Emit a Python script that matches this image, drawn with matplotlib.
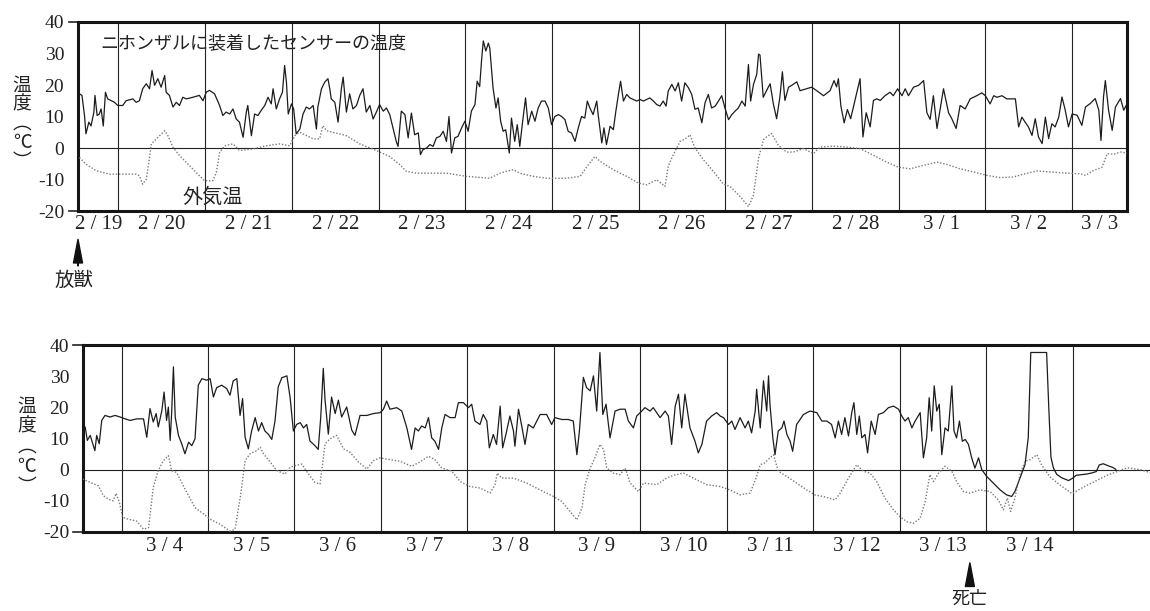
import matplotlib
matplotlib.use('Agg')
import matplotlib.pyplot as plt

plt.rcParams['font.family'] = ['Liberation Serif', 'Noto Sans CJK JP']
JP = ['Noto Sans CJK JP']

# (hours since 2/19 0:00, deg C)
feb_sensor = [
    (13.2, 17.2), (13.9, 16.7), (14.6, 10.3), (15.0, 4.5), (15.8, 8.2), (16.4, 7.0),
    (17.2, 11.4), (17.5, 16.7), (18.1, 10.3), (18.7, 10.8), (19.2, 12.4), (19.8, 7.0),
    (20.4, 17.7), (21.0, 15.6), (22.9, 14.5), (23.8, 13.5), (25.2, 13.5), (26.1, 15.0),
    (28.0, 15.6), (28.9, 14.5), (29.8, 15.0), (30.7, 18.8), (31.7, 20.4), (32.6, 18.8),
    (33.3, 24.6), (34.0, 19.9), (34.9, 22.0), (35.8, 19.3), (36.8, 23.0), (37.2, 17.7),
    (38.1, 16.7), (39.1, 13.0), (40.0, 14.5), (40.9, 13.5), (41.8, 16.1), (42.8, 15.6),
    (44.6, 16.1), (46.4, 16.7), (47.4, 15.0), (48.3, 17.7), (49.2, 18.3), (50.6, 17.2),
    (52.0, 13.5), (52.9, 10.3), (53.8, 11.4), (54.8, 10.8), (55.7, 12.4), (56.6, 9.2),
    (57.5, 8.2), (58.5, 3.4), (59.4, 11.4), (59.8, 13.5), (60.8, 3.9), (61.7, 10.8),
    (62.6, 10.3), (63.5, 11.9), (64.5, 13.5), (65.4, 16.1), (66.3, 14.0), (66.8, 18.8),
    (67.7, 12.4), (68.6, 15.6), (69.4, 17.7), (70.0, 26.2), (70.5, 20.9), (71.0, 10.8),
    (71.9, 14.0), (72.5, 12.4), (73.2, 4.5), (74.2, 6.0), (75.1, 10.8), (76.0, 13.0),
    (76.9, 12.4), (77.9, 13.5), (78.8, 6.0), (79.2, 13.0), (80.2, 18.8), (81.1, 20.9),
    (82.0, 22.0), (82.5, 18.8), (82.9, 15.6), (83.9, 14.5), (84.8, 8.2), (85.7, 18.8),
    (86.2, 22.5), (87.1, 11.4), (88.0, 17.2), (88.9, 12.4), (89.9, 13.5), (90.8, 16.7),
    (91.7, 18.8), (92.6, 11.4), (93.6, 13.5), (94.5, 9.2), (95.4, 11.4),
    (96.3, 13.8), (97.3, 11.7), (98.2, 12.7), (99.1, 10.6), (100.0, 6.4), (100.9, 2.1),
    (101.4, 0.5), (102.3, 11.7), (103.3, 10.6), (104.2, 3.2), (105.1, 11.1), (106.0, 4.2),
    (107.0, 4.8), (107.6, -2.1), (108.3, -0.5), (109.3, 0.0), (110.2, 1.1), (111.1, 0.5),
    (112.0, 3.2), (113.0, 3.7), (113.9, 5.3), (114.8, 2.1), (115.5, 10.0), (116.2, -1.6),
    (117.1, 3.2), (118.0, 3.7), (119.0, 6.4), (119.9, 8.5), (120.8, 5.3), (121.7, 11.7),
    (122.7, 13.8), (123.3, 21.2), (124.0, 19.5), (124.5, 27.6), (125.0, 34.0), (125.7, 30.8),
    (126.4, 33.3), (126.8, 31.7), (127.7, 19.1), (128.5, 12.7), (129.1, 15.9), (129.8, 8.5),
    (130.5, 5.3), (131.2, 5.8), (132.2, -1.6), (132.8, 9.5), (133.7, 2.1), (134.4, 7.4),
    (135.1, 0.5), (135.9, 8.5), (136.7, 15.9), (137.4, 7.4), (138.4, 11.7), (139.3, 8.5),
    (140.2, 12.7), (141.1, 14.9), (142.1, 14.9), (143.0, 12.7), (143.9, 7.4), (144.8, 10.0),
    (145.8, 10.6), (146.7, 10.0), (147.6, 9.0), (148.5, 5.3), (149.4, 4.8), (150.4, 2.1),
    (151.3, 6.4), (152.2, 10.0), (153.1, 9.5), (153.8, 14.9), (154.5, 12.7), (155.4, 10.6),
    (156.4, 14.9), (156.8, 10.6), (157.8, 1.6), (158.4, 6.4), (159.1, 1.1), (160.1, 6.9),
    (161.0, 5.8), (161.7, 11.7), (162.4, 17.0), (163.0, 21.2), (163.8, 14.9), (164.7, 17.0),
    (165.6, 15.9), (166.5, 15.4), (167.5, 14.9), (168.4, 15.4), (169.3, 14.9), (170.2, 15.4),
    (171.1, 15.9), (172.1, 14.9), (173.0, 13.8), (173.9, 13.3), (174.8, 14.9), (175.6, 13.3),
    (176.2, 18.1), (177.2, 20.2), (178.1, 18.1), (179.0, 20.7), (179.9, 14.9), (180.8, 20.7),
    (181.8, 19.1), (182.7, 17.0), (183.6, 12.3), (184.5, 12.7), (185.5, 8.0), (186.4, 14.4),
    (187.3, 17.0), (188.2, 12.7), (189.2, 13.3), (190.1, 14.9), (191.0, 16.6), (191.9, 12.7),
    (192.9, 9.0), (193.8, 10.6), (194.7, 11.7), (195.6, 12.7), (196.6, 14.9), (197.5, 13.3),
    (198.4, 26.5), (199.0, 14.9), (199.8, 20.2), (200.7, 23.4), (201.2, 29.8), (201.6, 29.5),
    (202.5, 16.1), (203.4, 18.2), (204.4, 20.4), (205.3, 14.0), (206.2, 9.3), (207.1, 16.1),
    (207.8, 24.2), (208.5, 15.1), (209.5, 19.3), (210.4, 19.9), (211.8, 21.0), (212.7, 18.2),
    (214.5, 18.8), (215.9, 19.3), (217.3, 18.2), (219.2, 16.6), (221.0, 18.2), (222.1, 21.4),
    (222.8, 19.4), (223.3, 22.0), (224.0, 13.3), (224.9, 8.0), (225.8, 12.2), (226.7, 9.3),
    (227.9, 15.1), (229.3, 22.0), (230.1, 3.5), (231.0, 11.2), (232.1, 6.7), (233.0, 15.1),
    (233.9, 15.6), (234.9, 15.1), (236.2, 16.6), (237.6, 17.7), (238.5, 16.6), (239.7, 18.8),
    (240.9, 16.6), (241.8, 18.8), (242.7, 16.6), (244.1, 19.3), (245.5, 19.9), (246.9, 21.4),
    (247.8, 11.2), (248.7, 9.1), (249.6, 16.6), (250.6, 6.2), (251.5, 12.4), (252.4, 18.8),
    (253.8, 11.2), (254.7, 9.3), (255.9, 6.2), (257.0, 13.5), (258.4, 12.4), (259.8, 15.6),
    (261.6, 16.6), (263.0, 17.5), (264.0, 16.6), (265.3, 14.0), (266.3, 16.6), (267.2, 16.1),
    (268.6, 16.6), (269.9, 15.6), (272.3, 15.6), (273.2, 6.7), (274.1, 9.8), (275.0, 8.2),
    (275.9, 6.7), (276.9, 4.0), (277.8, 9.3), (278.7, 3.5), (279.7, 1.4), (280.6, 9.8),
    (281.5, 3.0), (282.4, 7.7), (283.3, 6.7), (284.3, 9.8), (285.2, 16.2), (286.1, 12.0),
    (287.0, 6.7), (288.0, 10.8), (289.4, 10.4), (290.7, 7.2), (291.7, 13.0), (293.0, 14.1),
    (294.4, 15.7), (295.4, 12.0), (296.0, 2.4), (296.7, 16.2), (297.2, 21.4), (298.1, 12.0),
    (299.1, 5.6), (300.0, 13.0), (301.4, 15.7), (302.3, 12.0), (303.2, 14.0),
]

feb_air = [
    (13.2, -3.0), (15.0, -5.1), (17.8, -7.2), (21.5, -8.3), (26.1, -8.3), (28.9, -8.3),
    (29.8, -8.8), (30.7, -11.5), (31.7, -9.9), (32.4, -4.6), (33.1, 1.3), (34.0, 2.3),
    (35.4, 3.9), (36.8, 5.5), (37.7, 3.9), (39.1, 0.2), (40.9, -2.4), (42.8, -4.6),
    (44.6, -6.7), (46.4, -8.8), (47.8, -10.4), (50.1, -10.4), (51.1, -7.7), (52.0, -1.4),
    (53.4, 0.7), (55.7, 1.3), (57.5, -0.8), (61.2, -0.3), (64.9, 0.7), (68.6, 1.3),
    (71.4, 0.7), (72.8, 3.9), (74.2, 5.0), (77.9, 2.9), (79.7, 2.9), (80.6, 7.1),
    (81.6, 5.5), (87.1, 3.9), (90.8, 1.3), (95.4, -0.8), (99.1, -2.7), (101.9, -5.3),
    (103.7, -7.4), (106.5, -8.0), (114.8, -8.0), (120.3, -9.0), (126.8, -9.6), (129.6, -8.0),
    (131.4, -7.4), (133.3, -6.9), (135.1, -8.0), (138.8, -9.0), (142.5, -9.6), (148.1, -9.6),
    (151.8, -9.0), (154.1, -5.3), (155.9, -2.7), (157.3, -4.2), (161.0, -6.9), (164.7, -9.0),
    (167.9, -11.1), (170.2, -11.7), (173.0, -10.1), (175.3, -12.2), (176.2, -5.8), (177.6, -2.1),
    (179.5, 2.1), (181.3, 3.2), (182.2, 4.2), (183.6, 0.0), (185.9, -3.7), (188.7, -7.4),
    (191.5, -11.5), (193.3, -12.2), (196.1, -15.4), (198.4, -18.6), (199.8, -14.9), (201.2, -3.2),
    (202.6, 2.7), (203.4, 3.5), (204.8, 4.6), (206.7, 0.8), (209.0, -1.3), (210.8, -1.3),
    (213.6, -0.2), (216.4, -1.8), (218.2, 0.3), (221.9, 0.6), (225.6, 0.3), (229.3, -0.2),
    (233.0, -2.3), (236.7, -4.5), (239.9, -6.1), (243.2, -6.6), (246.9, -5.5), (250.6, -4.5),
    (253.3, -5.2), (257.0, -6.6), (260.7, -7.6), (264.4, -8.7), (268.1, -9.4), (271.8, -9.2),
    (275.5, -8.0), (278.3, -7.3), (282.0, -7.6), (286.6, -8.0), (290.3, -8.2), (291.7, -8.7),
    (294.0, -7.1), (296.3, -6.1), (297.7, -1.8), (299.5, -2.0), (301.4, -1.3), (303.2, -1.6),
]

mar_sensor = [
    (301.2, 11.0), (301.9, 13.7), (302.5, 9.4), (303.3, 11.0), (304.0, 8.3), (304.6, 6.1),
    (305.1, 11.0), (305.8, 8.3), (306.5, 15.8), (307.4, 17.4), (308.8, 16.9), (310.2, 17.4),
    (311.6, 16.9), (313.0, 16.3), (314.4, 15.8), (316.2, 16.3), (318.1, 16.3), (319.0, 10.4),
    (319.9, 19.6), (320.8, 15.3), (321.6, 18.0), (322.2, 13.7), (323.2, 19.0), (323.8, 24.9),
    (324.5, 15.8), (325.0, 20.1), (325.5, 9.4), (325.9, 18.0), (326.4, 33.0), (326.9, 16.9),
    (327.8, 11.0), (328.7, 8.3), (329.6, 5.1), (330.6, 8.8), (331.5, 7.7), (332.4, 9.9),
    (333.3, 27.1), (334.3, 29.2), (335.6, 28.7), (336.6, 29.2), (337.5, 23.3), (338.4, 26.3),
    (339.8, 27.1), (341.2, 26.0), (342.1, 23.9), (343.0, 28.5), (344.0, 29.2), (344.9, 17.4),
    (345.6, 22.8), (346.3, 10.4), (347.2, 6.7), (348.1, 12.4), (349.1, 16.7), (350.0, 12.4),
    (350.9, 15.1), (351.8, 12.4), (352.8, 11.3), (353.7, 9.7), (354.6, 15.6), (355.5, 26.6),
    (356.5, 29.5), (357.9, 30.1), (358.8, 23.1), (359.7, 12.4), (360.6, 14.5), (361.6, 15.1),
    (362.5, 13.4), (363.4, 14.5), (364.3, 9.2), (365.7, 7.7), (366.6, 6.5), (367.3, 16.9),
    (368.0, 32.5), (368.5, 22.3), (369.4, 11.4), (370.3, 23.3), (371.3, 18.0), (372.2, 22.3),
    (373.1, 16.9), (374.5, 20.1), (375.9, 12.7), (376.8, 11.0), (378.2, 17.4), (380.1, 17.4),
    (381.9, 18.0), (383.8, 18.3), (384.7, 19.4), (385.6, 22.0), (386.5, 19.4), (388.4, 19.9),
    (389.8, 18.8), (391.2, 13.4), (392.5, 6.5), (393.5, 13.4), (394.4, 12.4), (395.3, 14.0),
    (396.3, 13.4), (397.2, 16.7), (398.1, 10.2), (399.0, 9.1), (400.0, 6.5), (400.9, 13.4),
    (401.8, 17.7), (403.2, 16.7), (404.6, 16.7), (405.5, 21.5), (406.9, 21.5), (408.3, 19.9),
    (409.2, 21.0), (410.1, 15.6), (411.5, 14.5), (412.4, 17.7), (413.4, 15.6), (414.1, 7.0),
    (415.2, 11.3), (416.1, 8.1), (417.1, 20.4), (417.8, 7.0), (418.7, 11.3), (419.8, 17.2),
    (420.8, 12.4), (421.2, 7.5), (422.2, 19.4), (423.1, 14.0), (424.0, 8.1), (424.9, 14.5),
    (426.3, 13.4), (428.2, 17.7), (430.0, 17.7), (431.4, 14.5), (432.3, 16.7), (434.2, 16.1),
    (436.0, 16.1), (437.4, 15.6), (438.4, 4.8), (439.1, 12.4), (440.2, 29.6), (441.1, 26.3),
    (442.1, 25.3), (443.0, 30.1), (443.9, 18.8), (444.8, 37.6), (445.6, 17.7), (446.5, 21.0),
    (447.6, 10.2), (449.0, 18.8), (450.4, 19.4), (451.8, 19.4), (452.7, 15.6), (454.1, 13.4),
    (455.0, 17.2), (456.4, 18.8), (457.3, 19.9), (458.7, 18.8), (459.6, 19.9), (461.5, 16.7),
    (462.9, 18.8), (463.8, 17.2), (464.7, 8.1), (465.7, 20.4), (466.6, 24.2), (467.5, 13.4),
    (468.4, 24.2), (469.8, 13.4), (471.2, 9.1), (472.1, 5.4), (473.1, 8.1), (474.4, 15.6),
    (475.8, 17.2), (477.2, 18.3), (478.2, 17.2), (479.1, 16.7), (480.5, 14.5), (481.4, 15.6),
    (482.3, 12.9), (483.7, 16.7), (485.1, 13.4), (486.0, 15.6), (486.9, 11.8), (487.9, 18.8),
    (488.3, 25.8), (489.3, 13.4), (490.2, 28.5), (491.1, 18.8), (491.6, 30.1), (492.0, 21.0),
    (492.8, 10.2), (493.4, 4.8), (494.3, 12.4), (495.3, 13.4), (495.9, 15.6), (496.7, 11.3),
    (497.6, 9.1), (498.3, 5.9), (499.4, 14.5), (501.3, 17.7), (503.1, 18.8), (505.0, 18.3),
    (506.4, 15.6), (507.8, 15.6), (509.1, 14.5), (510.1, 10.2), (511.0, 15.6), (511.9, 11.3),
    (512.8, 16.7), (513.8, 10.8), (514.7, 18.3), (515.3, 21.5), (516.1, 11.3), (516.8, 17.2),
    (517.5, 10.2), (518.4, 11.3), (519.1, 5.4), (520.1, 15.6), (521.2, 11.3), (522.1, 17.7),
    (523.5, 18.3), (524.9, 19.9), (526.3, 20.4), (527.7, 19.4), (528.6, 17.2), (529.5, 15.6),
    (530.4, 16.7), (531.4, 13.4), (532.3, 15.6), (533.7, 18.3), (534.6, 3.8), (535.5, 10.2),
    (536.2, 23.1), (536.9, 12.4), (537.6, 26.9), (538.3, 18.8), (539.0, 21.0), (539.7, 4.8),
    (540.6, 13.4), (541.5, 12.4), (542.5, 26.9), (543.1, 12.4), (543.8, 10.2), (544.6, 15.6),
    (545.4, 9.1), (546.2, 9.7), (547.1, 8.1), (548.0, 3.8), (548.9, 0.5), (549.9, 3.8),
    (550.8, 0.0), (552.2, -2.2), (554.0, -4.3), (555.9, -6.5), (557.7, -8.1), (559.1, -8.6),
    (560.0, -7.0), (561.4, -2.7), (562.8, 1.6), (563.7, 10.2), (564.4, 37.6), (568.8, 37.6),
    (569.4, 20.0), (570.0, 4.0), (570.7, 0.5), (571.6, -1.5), (573.0, -2.6), (574.9, -3.5),
    (576.2, -2.6), (577.0, -1.8), (578.5, -1.6), (580.0, -1.4), (581.5, -1.0), (582.6, -0.6),
    (583.4, 1.5), (584.5, 1.9), (586.0, 1.2), (587.2, 0.7), (588.0, 0.1),
]

mar_air = [
    (301.2, -3.0), (303.3, -4.1), (305.6, -5.2), (307.0, -8.4), (308.4, -9.5), (309.7, -10.0),
    (310.5, -7.6), (311.4, -10.5), (312.3, -15.3), (313.9, -15.9), (316.2, -16.5), (318.1, -19.1),
    (319.5, -18.6), (320.8, -5.7), (322.2, -0.3), (323.6, 2.9), (325.0, 4.5), (325.9, -0.3),
    (327.3, -0.9), (329.6, -6.2), (332.4, -12.2), (334.3, -13.8), (336.6, -15.9), (339.3, -17.5),
    (342.1, -19.7), (343.5, -19.1), (344.2, -14.2), (345.1, -7.8), (346.3, 2.9), (347.7, 5.1),
    (349.5, 6.1), (350.5, 7.2), (351.4, 5.1), (353.7, 1.8), (355.1, -0.3), (357.4, -1.4),
    (358.8, 0.8), (360.2, 1.3), (362.0, 1.8), (363.9, -1.4), (365.7, -4.1), (367.1, -4.6),
    (368.5, 8.3), (369.9, 9.9), (371.7, 11.0), (373.6, 6.7), (375.4, 5.6), (377.8, 2.4),
    (380.1, 0.2), (381.9, 2.9), (383.8, 3.8), (386.5, 3.2), (389.3, 2.7), (392.5, 1.1),
    (394.4, 2.2), (397.2, 4.3), (399.0, 3.2), (400.9, 0.5), (403.7, -0.5), (406.0, -3.8),
    (408.7, -5.4), (411.5, -5.9), (414.3, -7.5), (415.7, -4.8), (416.3, -1.1), (417.5, -2.7),
    (420.8, -2.7), (424.5, -4.3), (428.2, -6.5), (431.9, -8.6), (434.2, -10.2), (436.5, -13.4),
    (438.4, -16.1), (439.8, -12.4), (440.7, -4.8), (442.1, 0.5), (443.4, 3.8), (444.8, 8.1),
    (445.8, 6.5), (446.7, 0.5), (448.5, -1.1), (450.4, -1.6), (451.8, 0.5), (453.2, -4.3),
    (455.5, -7.0), (456.9, -4.3), (460.6, -4.8), (463.3, -2.7), (465.2, -1.8), (468.0, -1.1),
    (470.7, -2.7), (474.4, -4.8), (478.2, -5.4), (480.9, -6.5), (483.7, -8.1), (486.5, -7.5),
    (488.3, -2.2), (489.3, 1.6), (490.6, 2.2), (492.0, 3.8), (493.0, 4.8), (494.3, -0.5),
    (496.7, -2.2), (499.4, -4.3), (502.2, -6.5), (504.5, -8.1), (506.8, -8.6), (510.1, -9.7),
    (511.5, -7.5), (513.8, -2.7), (516.1, 1.6), (517.9, -0.5), (519.8, -1.1), (521.6, -3.8),
    (523.9, -9.1), (526.3, -12.9), (528.1, -15.1), (530.0, -16.7), (531.8, -17.2), (533.7, -15.6),
    (535.1, -10.2), (536.4, -1.6), (537.4, -3.8), (538.8, -1.1), (540.6, 1.1), (542.5, -0.5),
    (543.8, -3.8), (545.7, -7.0), (547.5, -7.5), (550.3, -6.5), (553.1, -7.0), (555.4, -9.7),
    (556.8, -12.9), (557.9, -9.1), (558.8, -13.4), (560.0, -9.1), (561.4, -1.6), (562.8, 2.7),
    (564.2, 3.2), (566.1, 4.8), (567.4, 1.5), (569.8, -2.4), (572.6, -5.0), (575.9, -7.7),
    (579.0, -5.6), (582.8, -3.4), (585.6, -1.8), (589.3, -0.2), (591.2, 0.6), (594.9, 0.0),
    (597.6, -1.0),
]

feb_days = ['2/19', '2/20', '2/21', '2/22', '2/23', '2/24', '2/25',
            '2/26', '2/27', '2/28', '3/1', '3/2', '3/3']
mar_days = ['3/4', '3/5', '3/6', '3/7', '3/8', '3/9', '3/10',
            '3/11', '3/12', '3/13', '3/14']

RELEASE_H = 12.8   # 放獣
DEATH_H = 547.5    # 死亡

W, H = 1150, 611
fig = plt.figure(figsize=(W / 100, H / 100), dpi=100)
ax1 = fig.add_axes([78 / W, 1 - 211 / H, 1049 / W, 189 / H])
ax2 = fig.add_axes([83 / W, 1 - 532 / H, 1067 / W, 187 / H])


def draw_panel(ax, sensor, air, xlim, days, first_day, label_drop):
    t, v = zip(*sensor)
    ax.plot(t, v, color='#1c1c1c', lw=0.9, zorder=3)
    t, v = zip(*air)
    ax.plot(t, v, color='#7a7a7a', lw=1.0, dashes=(1.0, 1.3), zorder=3)

    ax.set_xlim(*xlim)
    ax.set_ylim(-20, 40)
    ax.axhline(0, color='#222222', lw=0.8, zorder=2)
    h = 24 * (int(xlim[0] // 24) + 1)
    while h < xlim[1]:
        ax.axvline(h, color='#222222', lw=0.8, zorder=2)
        h += 24

    ax.set_xticks([])
    ax.set_yticks([-20, -10, 0, 10, 20, 30, 40])
    ax.set_yticklabels(['-20', '-10', '0', '10', '20', '30', '40'], fontsize=14)
    ax.tick_params(axis='y', length=0, pad=10, colors='#222222')
    for y in (40, -20):
        ax.plot([-0.009, 0], [y, y], transform=ax.get_yaxis_transform(),
                color='#222222', lw=1.2, clip_on=False)
    for s in ax.spines.values():
        s.set_linewidth(2.2)
        s.set_color('#151515')

    # date under the visible part of each day
    tr = ax.get_xaxis_transform()
    for i, lab in enumerate(days):
        s = 24 * (first_day + i)
        lo, hi = max(s, xlim[0]), min(s + 24, xlim[1])
        ax.text((lo + hi) / 2, label_drop, lab.replace('/', ' / '), transform=tr,
                ha='center', va='center', fontsize=15, color='#222222')


draw_panel(ax1, feb_sensor, feb_air, (12.8, 303.2), feb_days, 0, -0.07)
draw_panel(ax2, mar_sensor, mar_air, (301.3, 597.5), mar_days, 13, -0.08)
ax2.spines['right'].set_visible(False)

ax1.text(0.021, 0.884, 'ニホンザルに装着したセンサーの温度', transform=ax1.transAxes,
         family=JP, fontsize=13, ha='left', va='center', color='#222222')
ax1.text(0.128, 0.074, '外気温', transform=ax1.transAxes,
         family=JP, fontsize=14.5, ha='center', va='center', color='#222222')

# vertical axis titles
for x0, ys in ((22, (85, 104, 123, 142, 161)), (27, (406, 426, 446, 466, 486))):
    for ch, y in zip(['温', '度', '︵', '℃', '︶'], ys):
        fig.text(x0 / W, 1 - y / H, ch, family=JP, fontsize=13.5,
                 ha='center', va='center', color='#222222')

arrow = dict(facecolor='#111111', edgecolor='#111111', width=0.3,
             headwidth=6.5, headlength=17, shrink=0)
tr1 = ax1.get_xaxis_transform()
ax1.annotate('', xy=(RELEASE_H, -0.15), xycoords=tr1,
             xytext=(RELEASE_H, -0.29), textcoords=tr1, arrowprops=arrow)
ax1.text(RELEASE_H - 1, -0.365, '放獣', transform=tr1, family=JP, fontsize=14,
         ha='center', va='center', color='#222222')

tr2 = ax2.get_xaxis_transform()
ax2.annotate('', xy=(DEATH_H, -0.165), xycoords=tr2,
             xytext=(DEATH_H, -0.285), textcoords=tr2, arrowprops=arrow)
ax2.text(DEATH_H, -0.355, '死亡', transform=tr2, family=JP, fontsize=13,
         ha='center', va='center', color='#222222')

fig.savefig('out.png', dpi=100)
